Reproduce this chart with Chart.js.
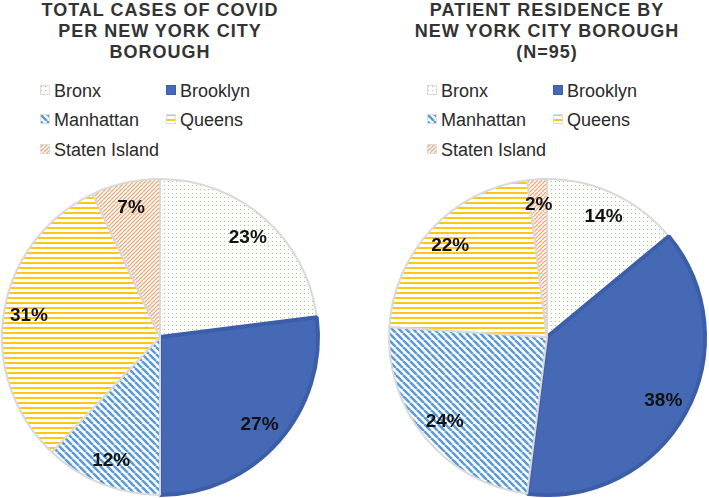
<!DOCTYPE html>
<html lang="en">
<head>
    <meta charset="UTF-8">
    <title>NYC Borough Pie Charts</title>
    <script src="https://cdn.jsdelivr.net/npm/chart.js"></script>
    <style>
        * {
            margin: 0;
            padding: 0;
            box-sizing: border-box;
        }

        body {
            width: 709px;
            height: 498px;
            background: #ffffff;
            font-family: 'Liberation Sans', Arial, sans-serif;
            position: relative;
            overflow: hidden;
        }

        .block {
            position: absolute;
            top: 0;
            width: 320px;
            height: 498px;
        }

        .title {
            position: absolute;
            top: 0;
            left: 0;
            width: 320px;
            text-align: center;
            font-weight: bold;
            font-size: 18px;
            line-height: 21px;
            letter-spacing: 1px;
            color: #333333;
            white-space: nowrap;
        }

        .legend-item {
            position: absolute;
            height: 20px;
            line-height: 20px;
            font-size: 18px;
            color: #2a2a2a;
            white-space: nowrap;
        }

        .legend-item canvas {
            position: absolute;
            left: 0;
            top: 4px;
        }

        .legend-item span {
            position: absolute;
            left: 14px;
            top: 0;
        }

        .chart-box {
            position: absolute;
            left: -5px;
            top: 172px;
            width: 330px;
            height: 330px;
        }
    </style>
</head>
<body>
    <div class="block" id="leftBlock" style="left: 0px;">
        <div class="title" id="leftTitle"></div>
        <div class="chart-box"><canvas id="casesChart"></canvas></div>
    </div>
    <div class="block" id="rightBlock" style="left: 387px;">
        <div class="title" id="rightTitle"></div>
        <div class="chart-box"><canvas id="patientChart"></canvas></div>
    </div>

    <script>
        const boroughs = ['Bronx', 'Brooklyn', 'Manhattan', 'Queens', 'Staten Island'];
        const casesShare = [23, 27, 12, 31, 7];
        const patientShare = [14, 38, 24, 22, 2];
        const casesTitle = ['TOTAL CASES OF COVID', 'PER NEW YORK CITY', 'BOROUGH'];
        const patientTitle = ['PATIENT RESIDENCE BY', 'NEW YORK CITY BOROUGH', '(N=95)'];

        // small tile patterns, like the office-style fills in the original
        function makePattern(kind) {
            const c = document.createElement('canvas');
            const g = c.getContext('2d');
            if (kind === 'dots') {
                c.width = 4; c.height = 4;
                g.fillStyle = '#ffffff';
                g.fillRect(0, 0, 4, 4);
                g.fillStyle = '#a6c87a';
                g.fillRect(1, 1, 1, 1);
            } else if (kind === 'solid') {
                return '#4669b6';
            } else if (kind === 'back') {
                c.width = 7; c.height = 7;
                g.fillStyle = '#ffffff';
                g.fillRect(0, 0, 7, 7);
                g.strokeStyle = '#5b9bd5';
                g.lineWidth = 2.6;
                for (let k = -7; k <= 7; k += 7) {
                    g.beginPath();
                    g.moveTo(k, 0);
                    g.lineTo(k + 7, 7);
                    g.stroke();
                }
            } else if (kind === 'horiz') {
                c.width = 4; c.height = 5;
                g.fillStyle = '#ffffff';
                g.fillRect(0, 0, 4, 5);
                g.fillStyle = '#ffc617';
                g.fillRect(0, 0, 4, 2);
            } else if (kind === 'fwd') {
                c.width = 4; c.height = 4;
                g.fillStyle = '#ffffff';
                g.fillRect(0, 0, 4, 4);
                g.strokeStyle = '#f0a878';
                g.lineWidth = 1.3;
                for (let k = -4; k <= 8; k += 4) {
                    g.beginPath();
                    g.moveTo(k, 4);
                    g.lineTo(k + 4, 0);
                    g.stroke();
                }
            }
            return g.createPattern(c, 'repeat');
        }

        const fillKinds = ['dots', 'solid', 'back', 'horiz', 'fwd'];
        const fills = fillKinds.map(makePattern);
        const borders = ['#d9d9d9', '#3c5ea9', '#d9d9d9', '#d9d9d9', '#d9d9d9'];
        const borderWidths = [2, 4, 2, 2, 2];

        function buildTitle(id, lines) {
            document.getElementById(id).innerHTML = lines.join('<br>');
        }

        function buildLegend(blockId) {
            const block = document.getElementById(blockId);
            boroughs.forEach((name, i) => {
                const row = Math.floor(i / 2);
                const col = i % 2;
                const item = document.createElement('div');
                item.className = 'legend-item';
                item.style.left = (40 + col * 126) + 'px';
                item.style.top = (80.5 + row * 29.5) + 'px';
                const sw = document.createElement('canvas');
                sw.width = 10; sw.height = 10;
                const g = sw.getContext('2d');
                g.fillStyle = fills[i];
                g.fillRect(0, 0, 10, 10);
                g.strokeStyle = i === 1 ? '#3c5ea9' : '#dcdcdc';
                g.lineWidth = 1;
                g.strokeRect(0.5, 0.5, 9, 9);
                const txt = document.createElement('span');
                txt.textContent = name;
                item.appendChild(sw);
                item.appendChild(txt);
                block.appendChild(item);
            });
        }

        // percent labels inside the slices
        const percentLabels = {
            id: 'percentLabels',
            afterDatasetsDraw(chart) {
                const ctx = chart.ctx;
                const meta = chart.getDatasetMeta(0);
                const values = chart.data.datasets[0].data;
                ctx.save();
                ctx.font = 'bold 19px "Liberation Sans", Arial, sans-serif';
                ctx.fillStyle = '#111111';
                ctx.textAlign = 'center';
                ctx.textBaseline = 'middle';
                meta.data.forEach((arc, i) => {
                    const p = arc.getProps(['x', 'y', 'startAngle', 'endAngle', 'outerRadius'], true);
                    const mid = (p.startAngle + p.endAngle) / 2;
                    const r = p.outerRadius * 0.84;
                    ctx.fillText(values[i] + '%', p.x + Math.cos(mid) * r, p.y + Math.sin(mid) * r);
                });
                ctx.restore();
            }
        };

        function renderPie(canvasId, values) {
            const ctx = document.getElementById(canvasId).getContext('2d');
            return new Chart(ctx, {
                type: 'pie',
                data: {
                    labels: boroughs,
                    datasets: [{
                        data: values,
                        backgroundColor: fills,
                        borderColor: borders,
                        borderWidth: borderWidths
                    }]
                },
                options: {
                    responsive: true,
                    maintainAspectRatio: false,
                    animation: false,
                    radius: 158,
                    layout: { padding: 0 },
                    plugins: {
                        legend: { display: false },
                        tooltip: { enabled: false }
                    }
                },
                plugins: [percentLabels]
            });
        }

        buildTitle('leftTitle', casesTitle);
        buildTitle('rightTitle', patientTitle);
        buildLegend('leftBlock');
        buildLegend('rightBlock');
        renderPie('casesChart', casesShare);
        renderPie('patientChart', patientShare);
    </script>
</body>
</html>
